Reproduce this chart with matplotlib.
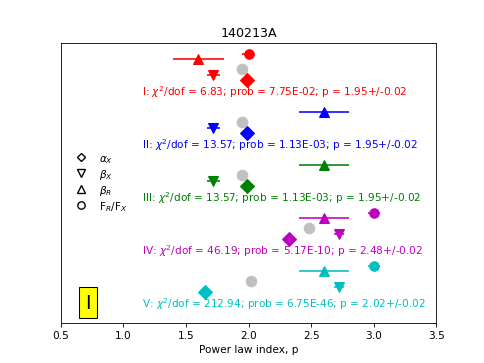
import numpy as np
import matplotlib
matplotlib.use("Agg")
import matplotlib.pyplot as plt
from matplotlib.lines import Line2D

groups = ['I', 'II', 'III', 'IV', 'V']
colors = ['r', 'b', 'g', 'm', 'c']
alpha_x = [1.99, 1.99, 1.99, 2.32, 1.65]
beta_x = [1.72, 1.72, 1.72, 2.72, 2.72]
beta_x_err = [0.05, 0.05, 0.05, 0.04, 0.04]
beta_r = [1.60, 2.60, 2.60, 2.60, 2.60]
beta_r_err = [0.20, 0.20, 0.20, 0.20, 0.20]
fr_fx = [2.00, np.nan, np.nan, 3.00, 3.00]
fr_fx_err = [0.05, 0.0, 0.0, 0.05, 0.05]
p_fit = [1.95, 1.95, 1.95, 2.48, 2.02]
p_err = [0.02, 0.02, 0.02, 0.02, 0.02]
chi2_dof = [6.83, 13.57, 13.57, 46.19, 212.94]
prob = ['7.75E-02', '1.13E-03', '1.13E-03', '5.17E-10', '6.75E-46']

fig, ax = plt.subplots(figsize=(6.4, 4.8), dpi=75.78)

ms = 10
for g in range(len(groups)):
    c = colors[g]
    base = 0.30 + g
    if not np.isnan(fr_fx[g]):
        ax.errorbar(fr_fx[g], base - 0.09, xerr=fr_fx_err[g], fmt='o', color=c, ms=9)
    ax.errorbar(beta_r[g], base, xerr=beta_r_err[g], fmt='^', color=c, ms=ms)
    ax.plot(p_fit[g], base + 0.20, 'o', color='silver', ms=ms)
    ax.errorbar(beta_x[g], base + 0.30, xerr=beta_x_err[g], fmt='v', color=c, ms=ms)
    ax.plot(alpha_x[g], base + 0.40, 'D', color=c, ms=9)
    txt = (f"{groups[g]}: $\\chi^2$/dof = {chi2_dof[g]:.2f}; prob = {prob[g]}; "
           f"p = {p_fit[g]:.2f}+/-{p_err[g]:.2f}")
    ax.text(1.15, base + 0.62, txt, color=c, fontsize=10, va='center', ha='left')

handles = [
    Line2D([], [], marker='D', ls='none', mfc='white', mec='k', ms=6, mew=1.3),
    Line2D([], [], marker='v', ls='none', mfc='white', mec='k', ms=7, mew=1.3),
    Line2D([], [], marker='^', ls='none', mfc='white', mec='k', ms=7, mew=1.3),
    Line2D([], [], marker='o', ls='none', mfc='white', mec='k', ms=7, mew=1.3),
]
labels = [r'$\alpha_X$', r'$\beta_X$', r'$\beta_R$', r'F$_R$/F$_X$']
ax.legend(handles, labels, loc='center left', frameon=False, fontsize=10,
          bbox_to_anchor=(0.0, 0.50), handletextpad=0.7, labelspacing=0.2)

ax.text(0.72, 4.90, 'I', fontsize=18, ha='center', va='center',
        bbox=dict(boxstyle='square,pad=0.32', fc='yellow', ec='k'))

ax.set_xlim(0.5, 3.5)
ax.set_ylim(5.283, 0)
ax.set_yticks([])
ax.set_xlabel('Power law index, p')
ax.set_title('140213A')

fig.savefig('out.png', dpi=75.78)
